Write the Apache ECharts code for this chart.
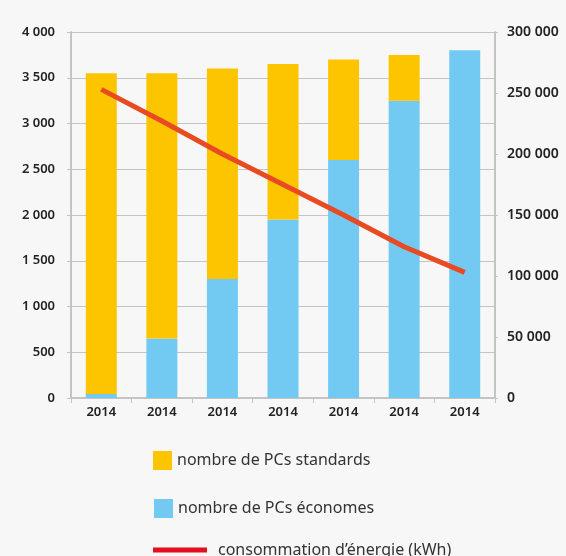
<!DOCTYPE html>
<html>
<head>
    <meta charset="utf-8">
    <title>PCs</title>
    <script src="https://cdn.jsdelivr.net/npm/echarts@6/dist/echarts.min.js"></script>
    <style>
        html, body { margin: 0; padding: 0; background: #f7f7f7; }
        #chartmain { width: 566px; height: 556px; }
    </style>
</head>
<body>
    <div id="chartmain"></div>
    <script type="text/javascript">
        // données
        var annees = ['2014', '2014', '2014', '2014', '2014', '2014', '2014'];
        var pcEconomes = [45, 650, 1300, 1950, 2600, 3250, 3800];
        var pcStandards = [3505, 2900, 2300, 1700, 1100, 500, 0];
        var consoEnergie = [253000, 227000, 200000, 175000, 150000, 124000, 103000];

        function milliers(v) {
            return String(v).replace(/\B(?=(\d{3})+(?!\d))/g, ' ');
        }

        var police = 'Noto Sans';
        var myChart = echarts.init(document.getElementById('chartmain'));

        myChart.setOption({
            backgroundColor: '#f7f7f7',
            animation: false,
            grid: { left: 71, right: 71, top: 32, bottom: 158 },
            legend: [
                {
                    left: 153, top: 451, padding: 0, itemWidth: 19, itemHeight: 19, itemGap: 0, icon: 'rect',
                    textStyle: { fontFamily: police, fontSize: 16, color: '#333' },
                    data: ['nombre de PCs standards']
                },
                {
                    left: 154, top: 499, padding: 0, itemWidth: 19, itemHeight: 19, itemGap: 0, icon: 'rect',
                    textStyle: { fontFamily: police, fontSize: 16, color: '#333' },
                    data: ['nombre de PCs économes']
                },
                {
                    left: 153, top: 542, padding: 0, itemWidth: 54, itemHeight: 5, itemGap: 0,
                    textStyle: { fontFamily: police, fontSize: 16, color: '#333', padding: [0, 0, 0, 6] },
                    data: [{ name: 'consommation d’énergie (kWh)', icon: 'rect', itemStyle: { color: '#e2101e' } }]
                }
            ],
            xAxis: {
                type: 'category',
                data: annees,
                axisLine: { lineStyle: { color: '#c4c4c4', width: 2 } },
                axisTick: { show: true, length: 5, lineStyle: { color: '#c4c4c4' } },
                axisLabel: { fontFamily: police, fontSize: 13, fontWeight: 600, color: '#222', margin: 8 }
            },
            yAxis: [
                {
                    type: 'value', min: 0, max: 4000, interval: 500,
                    axisLine: { show: true, lineStyle: { color: '#c4c4c4', width: 2 } },
                    axisTick: { show: true, length: 4, lineStyle: { color: '#c4c4c4' } },
                    splitLine: { lineStyle: { color: '#c4c4c4', width: 1 } },
                    axisLabel: { fontFamily: police, fontSize: 13, fontWeight: 600, color: '#222', margin: 16, formatter: milliers }
                },
                {
                    type: 'value', min: 0, max: 300000, interval: 50000,
                    axisLine: { show: true, lineStyle: { color: '#c4c4c4', width: 2 } },
                    axisTick: { show: true, length: 3, lineStyle: { color: '#c4c4c4' } },
                    splitLine: { show: false },
                    axisLabel: { fontFamily: police, fontSize: 14, fontWeight: 600, color: '#222', margin: 12, formatter: milliers }
                }
            ],
            series: [
                {
                    name: 'nombre de PCs économes',
                    type: 'bar', stack: 'pc', barWidth: 31,
                    itemStyle: { color: '#72caf3' },
                    data: pcEconomes
                },
                {
                    name: 'nombre de PCs standards',
                    type: 'bar', stack: 'pc', barWidth: 31,
                    itemStyle: { color: '#fdc500' },
                    data: pcStandards
                },
                {
                    name: 'consommation d’énergie (kWh)',
                    type: 'line', yAxisIndex: 1,
                    showSymbol: false, symbol: 'none',
                    lineStyle: { color: '#e84a22', width: 5 },
                    itemStyle: { color: '#e2101e' },
                    data: consoEnergie
                }
            ]
        });
    </script>
</body>
</html>
